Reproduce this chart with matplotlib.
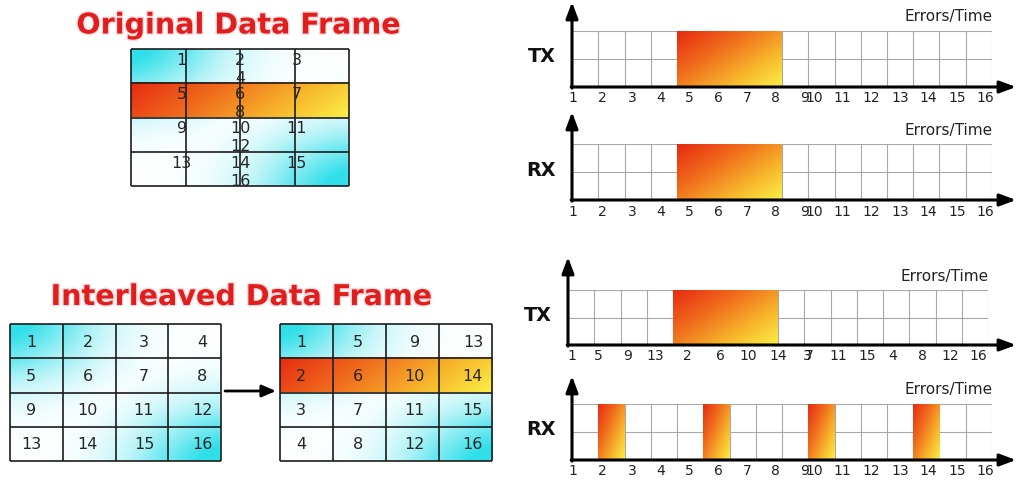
import numpy as np
import matplotlib.pyplot as plt
import matplotlib.patheffects as pe
from matplotlib.colors import LinearSegmentedColormap, to_rgb

W, H = 1017, 485

# frame contents (rows of 4 symbols)
original = np.array([[1, 2, 3, 4],
                     [5, 6, 7, 8],
                     [9, 10, 11, 12],
                     [13, 14, 15, 16]])
interleaved = np.array([[1, 5, 9, 13],
                        [2, 6, 10, 14],
                        [3, 7, 11, 15],
                        [4, 8, 12, 16]])
burst_row = 1  # row hit by the burst in each frame

# tick labels of the time axes
slots_plain = ['1', '2', '3', '4', '5', '6', '7', '8',
               '9', '10', '11', '12', '13', '14', '15', '16']
slots_interleaved = ['1', '5', '9', '13', '2', '6', '10', '14',
                     '3', '7', '11', '15', '4', '8', '12', '16']

# errored time slots (1-based) for each timeline
err_tx_top = [5, 6, 7, 8]
err_rx_top = [5, 6, 7, 8]
err_tx_bot = [5, 6, 7, 8]
err_rx_bot = [2, 6, 10, 14]

# where the tick labels sit (in slot units)
ticks_a = [0.05, 1.15, 2.28, 3.38, 4.48, 5.56, 6.66, 7.76,
           8.86, 9.22, 10.3, 11.4, 12.5, 13.58, 14.68, 15.75]
ticks_b = [0.15, 1.14, 2.25, 3.31, 4.53, 5.79, 6.86, 8.0,
           9.1, 9.18, 10.29, 11.39, 12.38, 13.49, 14.55, 15.62]

plt.rcParams['font.family'] = ['DejaVu Sans']

fire = LinearSegmentedColormap.from_list(
    'fire', [(0, '#e62b12'), (0.35, '#f06a1c'), (0.7, '#f7b52c'), (1, '#fbef45')])

fig = plt.figure(figsize=(W / 100, H / 100), dpi=100)


def px_axes(x0, y0, x1, y1, z=2):
    ax = fig.add_axes([x0 / W, 1 - y1 / H, (x1 - x0) / W, (y1 - y0) / H])
    ax.set_zorder(z)
    ax.axis('off')
    return ax


# gradient images
n = 160
u, v = np.meshgrid(np.linspace(0, 1, n), np.linspace(0, 1, n))
cu, cv = (u * 4) % 1, (v * 4) % 1
g = np.maximum(np.exp(-(u ** 2 + v ** 2) / 0.17),
               np.exp(-((1 - u) ** 2 + (1 - v) ** 2) / 0.17))
mod = np.where(u + v < 1, 1.1 - 0.4 * (cu + cv) / 2, 0.75 + 0.4 * (cu + cv) / 2)
g = np.clip(g * mod, 0, 1)
cyan = np.array(to_rgb('#2fdfea'))
cyan_img = 1 - g[..., None] * (1 - cyan)

ru, rv = np.meshgrid(np.linspace(0, 1, 200), np.linspace(0, 1, 30))
row_img = fire(0.82 * ru + 0.18 * rv)[..., :3]

bu, bv = np.meshgrid(np.linspace(0, 1, 60), np.linspace(0, 1, 60))
burst_img = fire(0.55 * bu + 0.45 * bv)[..., :3]


def frame(x0, y0, x1, y1, values, scattered=False, hit=True):
    ax = px_axes(x0, y0, x1, y1)
    ax.imshow(cyan_img, extent=(0, 4, 4, 0), aspect='auto', interpolation='bilinear')
    if hit:
        ax.imshow(row_img, extent=(0, 4, burst_row + 1, burst_row), aspect='auto',
                  interpolation='bilinear')
    ax.set_xlim(0, 4)
    ax.set_ylim(4, 0)
    ax.vlines(range(5), 0, 4, color='#1c1c1c', lw=1.2, clip_on=False)
    ax.hlines(range(5), 0, 4, color='#1c1c1c', lw=1.2, clip_on=False)
    for r in range(4):
        for c in range(4):
            if scattered:
                # numbers flowed three per line across the cell borders
                if c < 3:
                    x, y = c + 1 + [-0.07, 0.0, 0.04][c], r + 0.3
                else:
                    x, y = 2.0, r + 0.83
            else:
                x, y = c + 0.5 + [-0.1, -0.03, 0.04, 0.14][c], r + 0.5
            ax.text(x, y, str(values[r, c]), ha='center', va='center',
                    fontsize=11.5, color='#262626', zorder=5)
    return ax


def timeline(x0, top, base, tip, name, labels, errs, ticks):
    ax = px_axes(x0, top, x0 + 420, base)
    ax.vlines(np.arange(1, 17), 0, 2, color='#a8a8a8', lw=0.8)
    ax.hlines([1, 2], 0, 16, color='#a8a8a8', lw=0.8)
    # consecutive errored slots form one burst
    runs = []
    for s in sorted(errs):
        if runs and s == runs[-1][1] + 1:
            runs[-1][1] = s
        else:
            runs.append([s, s])
    for a, b in runs:
        ax.imshow(burst_img, extent=(a - 1, b, 0, 2), aspect='auto',
                  interpolation='bilinear', zorder=3)
    ax.set_xlim(0, 16)
    ax.set_ylim(0, 2)
    hp = base - top
    arrow = dict(arrowstyle='-|>,head_length=0.75,head_width=0.28', lw=2.2,
                 color='black', shrinkA=0, shrinkB=0, mutation_scale=13)
    ax.annotate('', xy=(0, (base - tip) / hp), xytext=(0, -0.02),
                xycoords='axes fraction', arrowprops=arrow, annotation_clip=False)
    ax.annotate('', xy=((1016 - x0) / 420, 0), xytext=(-0.002, 0),
                xycoords='axes fraction', arrowprops=arrow, annotation_clip=False)
    for t, lab in zip(ticks, labels):
        ax.annotate(lab, xy=(t, 0), xytext=(0, -10.5 * 0.72), textcoords='offset points',
                    ha='center', va='center', fontsize=10, color='#222222')
    ax.annotate(name, xy=(0, 0.5), xycoords='axes fraction', xytext=(-16 * 0.72, 3 * 0.72),
                textcoords='offset points', ha='right', va='center',
                fontsize=13.8, fontweight='bold', color='#111111')
    ax.annotate('Errors/Time', xy=(1, 1), xycoords='axes fraction',
                xytext=(1 * 0.72, 15 * 0.72), textcoords='offset points',
                ha='right', va='center', fontsize=11, color='#222222')
    return ax


bg = px_axes(0, 0, W, H, z=0)
bg.set_xlim(0, W)
bg.set_ylim(H, 0)

title_style = dict(ha='center', va='baseline', fontsize=20.6, fontweight='bold',
                   color='#e01e1e',
                   path_effects=[pe.withStroke(linewidth=2, foreground='#fadada')])
bg.text(238.5, 34.5, 'Original Data Frame', **title_style)
bg.text(241.5, 306, 'Interleaved Data Frame', **title_style)

frame(131, 50, 349, 187, original, scattered=True)
frame(10, 325, 221, 462, original, hit=False)
frame(280, 325, 492, 462, interleaved)

bg.annotate('', xy=(276, 392), xytext=(225, 392),
            arrowprops=dict(arrowstyle='-|>,head_length=0.7,head_width=0.3', lw=2,
                            color='black', shrinkA=0, shrinkB=0, mutation_scale=12))

timeline(572, 32, 88, 3, 'TX', slots_plain, err_tx_top, ticks_a)
timeline(572, 145, 201, 113, 'RX', slots_plain, err_rx_top, ticks_a)
timeline(568, 291, 346, 258, 'TX', slots_interleaved, err_tx_bot, ticks_b)
timeline(572, 405, 461, 377, 'RX', slots_plain, err_rx_bot, ticks_a)

fig.savefig('out.png', dpi=100)
